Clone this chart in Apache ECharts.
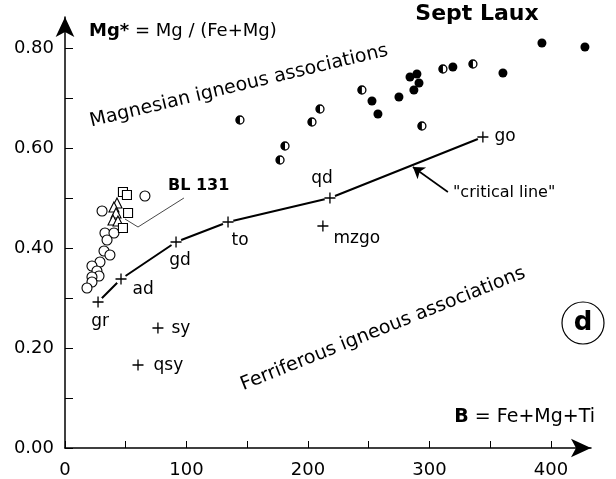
<!DOCTYPE html>
<html>
<head>
<meta charset="utf-8">
<script src="https://cdn.jsdelivr.net/npm/echarts@6/dist/echarts.min.js"></script>
<style>
  html, body { margin: 0; padding: 0; background: #fff; }
  #main { width: 616px; height: 479px; }
</style>
</head>
<body>
<div id="main"></div>
<script>
// B = Fe+Mg+Ti vs Mg* = Mg/(Fe+Mg), Sept Laux
var FONT = "DejaVu Sans";

// filled dots
var fullDots = [[252.7, 0.694], [257.6, 0.668], [274.9, 0.702], [284.0, 0.742], [289.7, 0.748],
  [291.4, 0.730], [287.2, 0.716], [319.3, 0.762], [360.5, 0.750], [392.6, 0.810], [428.0, 0.802]];
// half filled dots
var halfDots = [[144.0, 0.656], [177.0, 0.576], [181.1, 0.604], [203.3, 0.652], [209.9, 0.678],
  [244.4, 0.716], [293.8, 0.644], [311.1, 0.758], [335.8, 0.768]];
// open symbols (BL 131 group)
var openCircles = [[65.8, 0.504], [30.5, 0.474], [32.9, 0.430], [40.3, 0.430], [34.6, 0.416],
  [32.1, 0.394], [37.0, 0.386], [28.8, 0.372], [22.2, 0.364], [26.3, 0.354], [28.0, 0.344],
  [22.2, 0.342], [22.2, 0.332], [18.1, 0.320]];
var squares = [[47.7, 0.512], [51.0, 0.506], [51.9, 0.470], [47.7, 0.440]];
var triangles = [[42.8, 0.490], [40.3, 0.482], [42.0, 0.470], [39.5, 0.456], [43.6, 0.454]];

// reference rock types
var rockNames = ["gr", "ad", "gd", "to", "qd", "go", "mzgo", "sy", "qsy"];
var rockB = [27.2, 46.1, 91.4, 134.2, 218.1, 344.0, 212.3, 76.5, 60.1];
var rockMg = [0.292, 0.338, 0.412, 0.452, 0.500, 0.622, 0.444, 0.240, 0.166];
var criticalNames = ["gr", "ad", "gd", "to", "qd", "go"];

var blLeader = [[97.9, 0.500], [60.1, 0.442], [49.4, 0.458]];
var arrowLine = [[315.2, 0.512], [286.4, 0.562]];

var xTicks = [0, 100, 200, 300, 400];
var yTicks = ["0.00", "0.20", "0.40", "0.60", "0.80"];

var labelCfg = {
  gr: { position: "bottom", distance: 6, offset: [2, 0] },
  ad: { position: "right", distance: 6, offset: [0, 11] },
  gd: { position: "bottom", distance: 5, offset: [4, 0] },
  to: { position: "bottom", distance: 5, offset: [12, 0] },
  qd: { position: "top", distance: 5, offset: [-8, 0] },
  go: { position: "right", distance: 6, offset: [0, 0] },
  mzgo: { position: "right", distance: 5, offset: [0, 13] },
  sy: { position: "right", distance: 8, offset: [0, 1] },
  qsy: { position: "right", distance: 10, offset: [0, 1] }
};

var rocks = rockNames.map(function (n, i) {
  var c = labelCfg[n];
  return {
    name: n,
    value: [rockB[i], rockMg[i]],
    label: { position: c.position, distance: c.distance, offset: c.offset }
  };
});
var critical = criticalNames.map(function (n) {
  var i = rockNames.indexOf(n);
  return [rockB[i], rockMg[i]];
});

var CROSS = "path://M8.8,0h2.4v8.8h8.8v2.4h-8.8v8.8h-2.4v-8.8h-8.8v-2.4h8.8z";
var HALF = "path://M10,0 A10,10 0 0,0 10,20 Z";

var chart = echarts.init(document.getElementById("main"));
var axisText = { fontFamily: FONT, fontSize: 18, color: "#000" };
var solid = function (style) { return Object.assign({ opacity: 1 }, style); };

chart.setOption({
  backgroundColor: "#fff",
  animation: false,
  grid: { left: 65, right: 25, top: 17, bottom: 31 },
  xAxis: {
    type: "value", min: 0, max: 433, interval: 50,
    axisLine: { show: true, onZero: false, lineStyle: { color: "#000", width: 1.5 },
      symbol: ["none", "arrow"], symbolSize: [14, 20] },
    axisTick: { show: true, inside: true, length: 7, lineStyle: { color: "#000", width: 1 } },
    axisLabel: Object.assign({ margin: 13, showMaxLabel: false,
      formatter: function (v) { return xTicks.indexOf(v) >= 0 ? String(v) : ""; } }, axisText),
    splitLine: { show: false }
  },
  yAxis: {
    type: "value", min: 0, max: 0.862, interval: 0.1,
    axisLine: { show: true, onZero: false, lineStyle: { color: "#000", width: 1.5 },
      symbol: ["none", "arrow"], symbolSize: [14, 20] },
    axisTick: { show: true, inside: true, length: 8, lineStyle: { color: "#000", width: 1 } },
    axisLabel: Object.assign({ margin: 11, showMaxLabel: false,
      formatter: function (v) { var s = v.toFixed(2); return yTicks.indexOf(s) >= 0 ? s : ""; } }, axisText),
    splitLine: { show: false }
  },
  series: [
    { type: "line", data: critical, showSymbol: false, silent: true, z: 2,
      lineStyle: { color: "#000", width: 2, opacity: 1 } },
    { type: "scatter", data: critical, symbol: "circle", symbolSize: 11, silent: true, z: 3,
      itemStyle: solid({ color: "#fff" }) },
    { type: "scatter", data: rocks, symbol: CROSS, symbolSize: 11, z: 4,
      itemStyle: solid({ color: "#000" }),
      label: { show: true, formatter: "{b}", fontFamily: FONT, fontSize: 17, color: "#000" } },
    { type: "lines", coordinateSystem: "cartesian2d", polyline: true, z: 2,
      data: [{ coords: blLeader }], lineStyle: { color: "#333", width: 0.9, opacity: 1 } },
    { type: "lines", coordinateSystem: "cartesian2d", z: 2,
      data: [{ coords: arrowLine }], symbol: ["none", "arrow"], symbolSize: 11,
      lineStyle: { color: "#000", width: 1.6, opacity: 1 } },
    { type: "scatter", data: openCircles, symbol: "circle", symbolSize: 10, z: 5,
      itemStyle: solid({ color: "#fff", borderColor: "#000", borderWidth: 1.1 }) },
    { type: "scatter", data: triangles, symbol: "triangle", symbolSize: 10, z: 6,
      itemStyle: solid({ color: "#fff", borderColor: "#000", borderWidth: 1.1 }) },
    { type: "scatter", data: squares, symbol: "rect", symbolSize: 9, z: 6,
      itemStyle: solid({ color: "#fff", borderColor: "#000", borderWidth: 1.1 }) },
    { type: "scatter", data: halfDots, symbol: "circle", symbolSize: 8, z: 5,
      itemStyle: solid({ color: "#fff", borderColor: "#000", borderWidth: 1.3 }) },
    { type: "scatter", data: halfDots, symbol: HALF, symbolSize: [4, 8], symbolOffset: [-2, 0], z: 6,
      itemStyle: solid({ color: "#000" }) },
    { type: "scatter", data: fullDots, symbol: "circle", symbolSize: 9, z: 5,
      itemStyle: solid({ color: "#000" }) }
  ],
  graphic: [
    { type: "text", x: 89, y: 31, style: { text: "{b|Mg*} = Mg / (Fe+Mg)", fontFamily: FONT, fontSize: 18,
      fill: "#000", verticalAlign: "middle", rich: { b: { fontFamily: FONT, fontSize: 18, fontWeight: "bold" } } } },
    { type: "text", x: 477, y: 14, style: { text: "Sept Laux", fontFamily: FONT, fontSize: 22, fontWeight: "bold",
      fill: "#000", align: "center", verticalAlign: "middle" } },
    { type: "text", x: 595, y: 417, style: { text: "{b|B} = Fe+Mg+Ti", fontFamily: FONT, fontSize: 19,
      fill: "#000", align: "right", verticalAlign: "middle", rich: { b: { fontFamily: FONT, fontSize: 19, fontWeight: "bold" } } } },
    { type: "text", x: 168, y: 186, style: { text: "BL 131", fontFamily: FONT, fontSize: 16, fontWeight: "bold",
      fill: "#000", verticalAlign: "middle" } },
    { type: "text", x: 453, y: 193, style: { text: "\"critical line\"", fontFamily: FONT, fontSize: 16,
      fill: "#000", verticalAlign: "middle" } },
    { type: "text", x: 239, y: 86, rotation: 13.5 * Math.PI / 180, style: { text: "Magnesian igneous associations",
      fontFamily: FONT, fontSize: 19, fill: "#000", align: "center", verticalAlign: "middle" } },
    { type: "text", x: 383, y: 329, rotation: 21.8 * Math.PI / 180, style: { text: "Ferriferous igneous associations",
      fontFamily: FONT, fontSize: 19, fill: "#000", align: "center", verticalAlign: "middle" } },
    { type: "circle", shape: { cx: 583, cy: 323, r: 21 }, style: { fill: "#fff", stroke: "#000", lineWidth: 1.2 } },
    { type: "text", x: 583, y: 323, style: { text: "d", fontFamily: FONT, fontSize: 26, fontWeight: "bold",
      fill: "#000", align: "center", verticalAlign: "middle" } }
  ]
});
</script>
</body>
</html>
